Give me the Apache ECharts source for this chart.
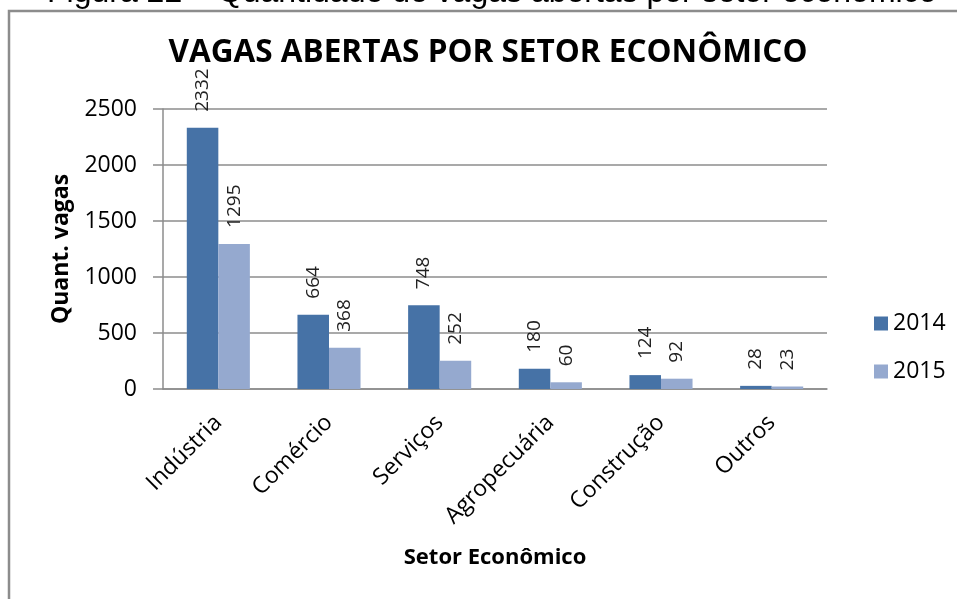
<!DOCTYPE html>
<html>
<head>
<meta charset="utf-8">
<title>Vagas abertas por setor econômico</title>
<script src="https://cdn.jsdelivr.net/npm/echarts@6/dist/echarts.min.js"></script>
<style>
    html, body { margin: 0; padding: 0; background: #fff; }
    #main { width: 957px; height: 599px; }
</style>
</head>
<body>
<div id="main"></div>
<script>
// dados
var setores = ['Indústria', 'Comércio', 'Serviços', 'Agropecuária', 'Construção', 'Outros'];
var vagas2014 = [2332, 664, 748, 180, 124, 28];
var vagas2015 = [1295, 368, 252, 60, 92, 23];
var anos = ['2014', '2015'];
var yTicks = [0, 500, 1000, 1500, 2000, 2500];

var cor2014 = '#4672a6';
var cor2015 = '#95a9cf';
var corLinha = '#8c8c8c';

function rotulo(dist) {
    return {
        show: true,
        position: 'top',
        rotate: 90,
        align: 'left',
        verticalAlign: 'middle',
        distance: dist,
        fontFamily: 'Open Sans',
        fontSize: 19,
        color: '#222'
    };
}

var myChart = echarts.init(document.getElementById('main'));

var option = {
    animation: false,
    backgroundColor: '#fff',
    graphic: [{
        // moldura da figura
        type: 'rect',
        shape: { x: 9, y: 11, width: 1000, height: 700 },
        style: { fill: 'none', stroke: corLinha, lineWidth: 2.5 }
    }, {
        // legenda da figura (cortada no topo)
        type: 'text',
        x: 47,
        y: -7,
        style: {
            text: 'Figura 22 – Quantidade de vagas abertas por setor econômico',
            fontFamily: 'Liberation Sans',
            fontSize: 32,
            fill: '#000',
            align: 'left',
            verticalAlign: 'middle'
        }
    }, {
        type: 'text',
        x: 488,
        y: 53,
        style: {
            text: 'VAGAS ABERTAS POR SETOR ECONÔMICO',
            fontFamily: 'Open Sans',
            fontWeight: 'bold',
            fontSize: 31.5,
            fill: '#000',
            align: 'center',
            verticalAlign: 'middle'
        }
    }],
    legend: {
        orient: 'vertical',
        left: 869,
        top: 307,
        icon: 'rect',
        itemWidth: 14,
        itemHeight: 14,
        itemGap: 25,
        itemTextGap: 7,
        data: anos,
        textStyle: {
            fontFamily: 'Open Sans',
            fontSize: 23,
            lineHeight: 23,
            color: '#000'
        }
    },
    grid: {
        left: 163,
        right: 130,
        top: 109,
        bottom: 210,
        containLabel: false
    },
    xAxis: {
        type: 'category',
        data: setores,
        name: 'Setor Econômico',
        nameLocation: 'middle',
        nameGap: 158,
        nameTextStyle: {
            fontFamily: 'Open Sans',
            fontWeight: 'bold',
            fontSize: 22,
            color: '#000'
        },
        axisLine: { lineStyle: { color: corLinha, width: 1.5 } },
        axisTick: { show: false },
        axisLabel: {
            interval: 0,
            rotate: 45,
            margin: 30,
            fontFamily: 'Open Sans',
            fontSize: 23,
            color: '#000'
        }
    },
    yAxis: {
        type: 'value',
        min: yTicks[0],
        max: yTicks[yTicks.length - 1],
        interval: yTicks[1] - yTicks[0],
        name: 'Quant. vagas',
        nameLocation: 'middle',
        nameGap: 90,
        nameTextStyle: {
            fontFamily: 'Open Sans',
            fontWeight: 'bold',
            fontSize: 23,
            color: '#000'
        },
        axisLine: { show: true, lineStyle: { color: corLinha, width: 1.5 } },
        axisTick: { show: true, length: 10, lineStyle: { color: corLinha, width: 1.5 } },
        axisLabel: {
            margin: 26,
            fontFamily: 'Open Sans',
            fontSize: 23,
            color: '#000',
            formatter: function(v) { return String(v); }
        },
        splitLine: { lineStyle: { color: corLinha, width: 1.5 } }
    },
    series: [{
        name: anos[0],
        type: 'bar',
        barGap: '0%',
        barCategoryGap: '43%',
        itemStyle: { color: cor2014 },
        label: rotulo(16),
        data: vagas2014
    }, {
        name: anos[1],
        type: 'bar',
        itemStyle: { color: cor2015 },
        label: rotulo(16),
        data: vagas2015
    }]
};

myChart.setOption(option);
</script>
</body>
</html>
